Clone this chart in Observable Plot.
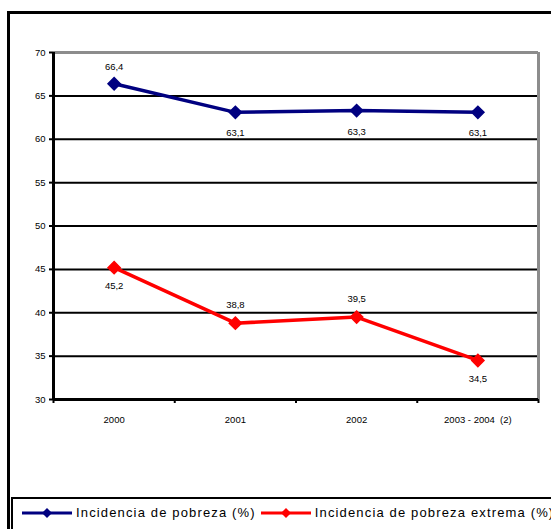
<!DOCTYPE html>
<html>
<head>
<meta charset="utf-8">
<script src="https://cdn.jsdelivr.net/npm/d3@7"></script>
<script src="https://cdn.jsdelivr.net/npm/@observablehq/plot@0.6"></script>
<style>
  html, body { margin:0; padding:0; background:#fff; }
  #wrap { position:relative; width:551px; height:529px; overflow:hidden; background:#fff; font-family:"Liberation Sans", Arial, sans-serif; }
  #frame { position:absolute; left:7px; top:11px; width:700px; height:700px; border:3px solid #000; box-sizing:border-box; }
  #chart { position:absolute; left:0; top:0; }
  #legend { position:absolute; left:11px; top:497px; width:700px; height:50px; border:2px solid #000; box-sizing:border-box; background:#fff; display:flex; align-items:flex-start; padding-top:6px; }
  .item { display:flex; align-items:center; font-size:13px; letter-spacing:1.15px; color:#000; white-space:nowrap; }
  .item span { margin-left:4px; }
</style>
</head>
<body>
<div id="wrap">
  <div id="frame"></div>
  <div id="chart"></div>
  <div id="legend"></div>
</div>
<script>
const categories = ["2000", "2001", "2002", "2003 - 2004  (2)"];
const pobreza = [66.4, 63.1, 63.3, 63.1];
const extrema = [45.2, 38.8, 39.5, 34.5];
const yTicks = [30, 35, 40, 45, 50, 55, 60, 65, 70];
const seriesNames = ["Incidencia de pobreza (%)", "Incidencia de pobreza extrema (%)"];
const seriesColors = ["#000080", "#FF0000"];

const fmt = v => String(v).replace(".", ",");
const xi = (d, i) => i + 0.5;

const plot = Plot.plot({
  width: 551,
  height: 497,
  marginLeft: 53,
  marginRight: 13,
  marginTop: 52,
  marginBottom: 98,
  style: { background: "transparent", fontFamily: "Liberation Sans, Arial, sans-serif", color: "#000" },
  x: { domain: [0, categories.length] },
  y: { domain: [30, 70] },
  marks: [
    Plot.ruleY(yTicks.filter(t => t > 30 && t < 70), { stroke: "#000", strokeWidth: 2 }),
    Plot.ruleY([70], { stroke: "#8c8c8c", strokeWidth: 3 }),
    Plot.ruleX([categories.length], { stroke: "#8c8c8c", strokeWidth: 3 }),
    Plot.axisY({ ticks: yTicks, tickSize: 4, tickPadding: 4, fontSize: 9.5, strokeWidth: 2, tickFormat: d => d }),
    Plot.axisX({ ticks: d3.range(categories.length + 1), tickSize: 4, strokeWidth: 2, tickFormat: () => "" }),
    Plot.ruleX([0], { stroke: "#000", strokeWidth: 3 }),
    Plot.ruleY([30], { stroke: "#000", strokeWidth: 3 }),
    Plot.text(categories, { x: xi, y: () => 30, dy: 20, text: d => d, fontSize: 9.5, fill: "#000" }),
    Plot.line(pobreza, { x: xi, y: d => d, stroke: seriesColors[0], strokeWidth: 3.5 }),
    Plot.dot(pobreza, { x: xi, y: d => d, symbol: "diamond2", r: 5.5, fill: seriesColors[0], stroke: seriesColors[0] }),
    Plot.line(extrema, { x: xi, y: d => d, stroke: seriesColors[1], strokeWidth: 3.5 }),
    Plot.dot(extrema, { x: xi, y: d => d, symbol: "diamond2", r: 5.5, fill: seriesColors[1], stroke: seriesColors[1] }),
    Plot.text(pobreza, { x: xi, y: d => d, text: fmt, filter: (d, i) => i === 0, dy: -17, fontSize: 9.5, fill: "#000" }),
    Plot.text(pobreza, { x: xi, y: d => d, text: fmt, filter: (d, i) => i > 0, dy: 21, fontSize: 9.5, fill: "#000" }),
    Plot.text(extrema, { x: xi, y: d => d, text: fmt, filter: (d, i) => i === 0 || i === 3, dy: 18, fontSize: 9.5, fill: "#000" }),
    Plot.text(extrema, { x: xi, y: d => d, text: fmt, filter: (d, i) => i === 1 || i === 2, dy: -18, fontSize: 9.5, fill: "#000" })
  ]
});
document.getElementById("chart").appendChild(plot);

const legend = document.getElementById("legend");
seriesNames.forEach((name, i) => {
  const item = document.createElement("div");
  item.className = "item";
  item.style.marginLeft = i === 0 ? "9px" : "5px";
  item.innerHTML = `<svg width="50" height="14"><line x1="0" y1="7" x2="50" y2="7" stroke="${seriesColors[i]}" stroke-width="3"/><path d="M25,2 L30,7 L25,12 L20,7Z" fill="${seriesColors[i]}"/></svg><span>${name}</span>`;
  legend.appendChild(item);
});
</script>
</body>
</html>
